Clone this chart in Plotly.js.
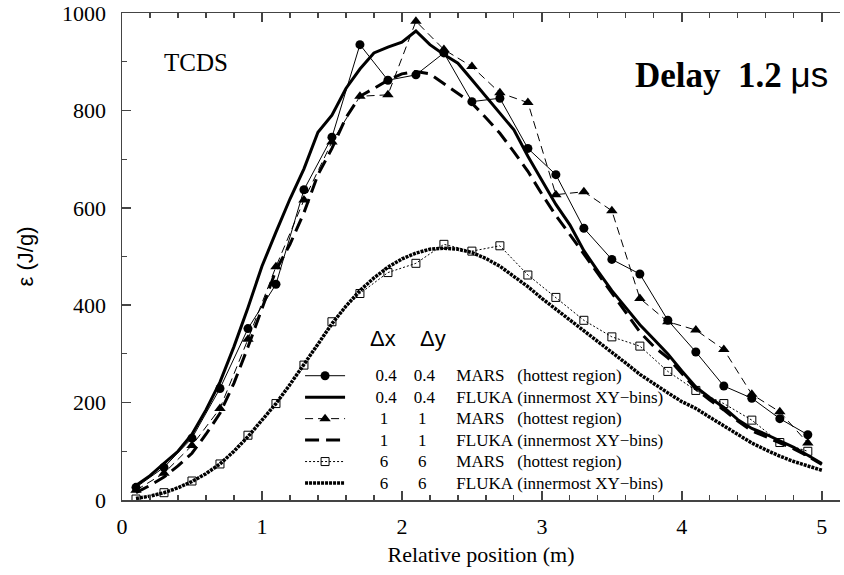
<!DOCTYPE html>
<html><head><meta charset="utf-8">
<script src="https://cdn.plot.ly/plotly-3.0.1.min.js"></script>
<style>html,body{margin:0;padding:0;background:#fff}#chart{width:844px;height:575px}</style>
</head><body><div id="chart"></div>
<script>
// ---- data ----
const xMars = [0.1,0.3,0.5,0.7,0.9,1.1,1.3,1.5,1.7,1.9,2.1,2.3,2.5,2.7,2.9,3.1,3.3,3.5,3.7,3.9,4.1,4.3,4.5,4.7,4.9];
const mars04 = [26,67,127,229,352,443,637,745,935,862,873,918,818,825,722,668,558,494,464,369,304,234,209,167,134];
const mars1  = [20,55,112,188,330,479,616,735,829,832,983,925,890,836,816,627,633,594,414,366,349,309,217,181,117];
const mars6  = [2,15,39,74,133,198,277,366,424,467,486,525,511,522,462,416,369,335,316,264,225,198,164,118,100];

const xFluka = [0.1,0.2,0.3,0.4,0.5,0.6,0.7,0.8,0.9,1.0,1.1,1.2,1.3,1.4,1.5,1.6,1.7,1.8,1.9,2.0,2.1,2.2,2.3,2.4,2.5,2.6,2.7,2.8,2.9,3.0,3.1,3.2,3.3,3.4,3.5,3.6,3.7,3.8,3.9,4.0,4.1,4.2,4.3,4.4,4.5,4.6,4.7,4.8,4.9,5.0];
const fluka04 = [30,50,75,100,135,185,242,315,395,480,550,618,680,755,790,845,885,918,930,940,963,935,915,897,863,829,795,760,706,655,607,565,512,470,430,395,360,330,300,265,232,210,190,165,147,135,122,108,92,75];
const fluka1  = [15,30,47,70,96,135,178,240,314,395,472,525,590,668,722,785,829,845,862,875,880,875,855,835,815,785,753,715,675,628,584,545,505,465,425,385,345,315,292,260,228,205,185,162,142,130,117,105,90,73];
const fluka6  = [3,8,15,25,38,54,74,100,130,163,198,237,277,320,362,398,430,456,478,495,507,515,517,515,508,496,480,460,438,414,392,370,349,325,303,281,258,238,220,202,188,170,153,135,117,103,90,79,70,61];

const dxLabels = ['0.4','0.4','1','1','6','6'];
const dyLabels = ['0.4','0.4','1','1','6','6'];
const codes = ['MARS','FLUKA','MARS','FLUKA','MARS','FLUKA'];
const notes = ['(hottest region)','(innermost XY\u2212bins)','(hottest region)','(innermost XY\u2212bins)','(hottest region)','(innermost XY\u2212bins)'];
const xTitle = 'Relative position (m)';
const yTitle = '\u03b5 (J/g)';

// ---- presentation ----
const NB = '\u00a0';
function col(s){ return s.length === 1 ? NB + s + NB + NB : s; }
function entry(i){
  const txt = NB.repeat(6) + col(dxLabels[i]) + NB.repeat(4) + col(dyLabels[i]) + NB.repeat(5) +
         (codes[i] === 'MARS' ? codes[i] + NB.repeat(3) : codes[i] + NB) + notes[i];
  return '<span style="font-size:17px">' + txt + '</span>';
}
const serif = 'Liberation Serif';
const sans = 'Liberation Sans';
const ink = '#000';

const traces = [
  {x:xFluka, y:fluka6, mode:'lines', name:entry(5), legendrank:6,
   line:{color:ink, width:3.5, dash:'3px,1px'}},
  {x:xMars, y:mars6, mode:'lines+markers', name:entry(4), legendrank:5,
   line:{color:ink, width:1, dash:'2px,2px'},
   marker:{symbol:'square-open', size:8, color:ink, line:{width:1, color:ink}}},
  {x:xFluka, y:fluka1, mode:'lines', name:entry(3), legendrank:4,
   line:{color:ink, width:3, dash:'14px,7px'}},
  {x:xFluka, y:fluka04, mode:'lines', name:entry(1), legendrank:2,
   line:{color:ink, width:3}},
  {x:xMars, y:mars1, mode:'lines+markers', name:entry(2), legendrank:3,
   line:{color:ink, width:1, dash:'8px,5px'},
   marker:{symbol:'triangle-up', size:10, color:ink}},
  {x:xMars, y:mars04, mode:'lines+markers', name:entry(0), legendrank:1,
   line:{color:ink, width:1},
   marker:{symbol:'circle', size:9, color:ink}}
];

const axisCommon = {
  showline:true, linecolor:'#444', linewidth:1.5, showgrid:false, zeroline:false,
  ticks:'inside', tickcolor:'#444', tickwidth:1.5, ticklen:9,
  tickfont:{family:serif, size:22, color:ink}
};

const layout = {
  width:844, height:575,
  margin:{l:122, r:4, t:13, b:75},
  paper_bgcolor:'#fff', plot_bgcolor:'#fff',
  font:{family:serif, color:ink},
  showlegend:true,
  legend:{x:0.248, y:0.2875, xanchor:'left', yanchor:'top', bgcolor:'rgba(0,0,0,0)',
          font:{family:serif, size:14.2, color:ink}, itemwidth:40, tracegroupgap:0,
          traceorder:'normal'},
  xaxis:Object.assign({}, axisCommon, {
    range:[0, 5.13], tick0:0, dtick:1, mirror:'ticks', ticklabelstandoff:6,
    minor:{dtick:0.2, ticks:'inside', ticklen:5, tickwidth:1.2, tickcolor:'#444', showgrid:false},
    title:{text:xTitle, font:{family:serif, size:22, color:ink}, standoff:8}
  }),
  yaxis:Object.assign({}, axisCommon, {
    range:[0, 1000], tick0:0, dtick:200, ticklabelstandoff:10,
    minor:{dtick:100, ticks:'inside', ticklen:5, tickwidth:1.2, tickcolor:'#444', showgrid:false},
    title:{text:yTitle, font:{family:sans, size:22, color:ink}, standoff:22}
  }),
  annotations:[
    {xref:'paper', yref:'paper', x:0.1027, y:0.898, xanchor:'center', yanchor:'middle',
     text:'TCDS', showarrow:false, font:{family:serif, size:25, color:ink}},
    {xref:'paper', yref:'paper', x:0.986, y:0.873, xanchor:'right', yanchor:'middle', showarrow:false,
     text:'Delay' + NB + NB + '1.2' + NB + '<span style="font-family:Liberation Sans;font-weight:normal">\u03bcs</span>',
     font:{family:serif, size:35, color:ink, weight:'bold'}},
    {xref:'paper', yref:'paper', x:0.3638, y:0.332, xanchor:'center', yanchor:'middle',
     text:'\u0394x', showarrow:false, font:{family:sans, size:22, color:ink}},
    {xref:'paper', yref:'paper', x:0.4334, y:0.332, xanchor:'center', yanchor:'middle',
     text:'\u0394y', showarrow:false, font:{family:sans, size:22, color:ink}}
  ]
};

Plotly.newPlot('chart', traces, layout, {displayModeBar:false, staticPlot:true});
</script>
</body></html>
